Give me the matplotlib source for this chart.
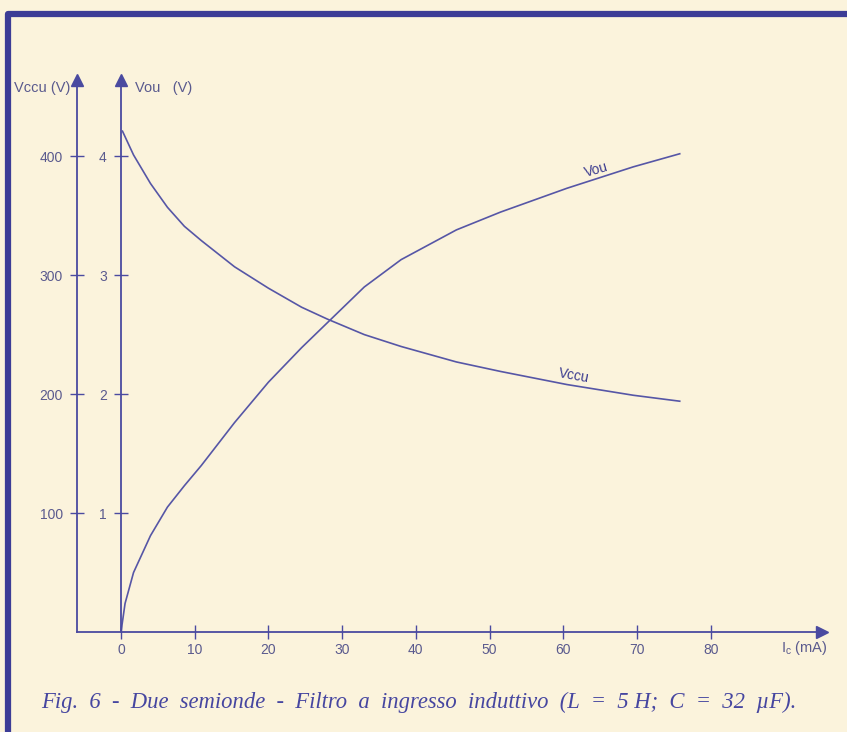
import matplotlib
matplotlib.use("Agg")
import matplotlib.pyplot as plt
from matplotlib.lines import Line2D

# dati (Ic in mA, tensioni in V)
ic_vou = [0, 0.55, 1.7, 4.0, 6.3, 8.6, 10.9, 15.4, 20.0, 24.5, 28.0,
          33.0, 38.0, 45.5, 51.5, 60.5, 69.5, 75.8]
vou = [0, 0.24, 0.50, 0.81, 1.05, 1.23, 1.40, 1.76, 2.10, 2.39, 2.60,
       2.90, 3.13, 3.38, 3.53, 3.73, 3.91, 4.02]

ic_vccu = [0.2, 1.7, 4.0, 6.3, 8.6, 10.9, 15.4, 20.0, 24.5, 28.0, 33.0, 38.0,
           45.5, 51.5, 60.5, 69.5, 75.8]
vccu = [421, 401, 377, 357, 341, 329, 307, 289, 273, 263, 250, 240,
        227, 219, 208, 199, 194]

x_ticks = [0, 10, 20, 30, 40, 50, 60, 70, 80]
vou_ticks = [1, 2, 3, 4]
vccu_ticks = [100, 200, 300, 400]

# didascalia con spazi doppi (spaziatura larga come nell'originale)
didascalia = ('Fig.  6  -  Due  semionde  -  Filtro  a  ingresso  induttivo  '
              '(L  =  5 H;  C  =  32  \u00b5F).')

carta = '#fbf3dc'
blu = '#4a4aa0'
linea = '#5656a6'
testo = '#5a5a8e'
sans = ['Liberation Sans', 'DejaVu Sans']

plt.rcParams['mathtext.default'] = 'regular'

fig = plt.figure(figsize=(8.47, 7.32), dpi=100, facecolor=carta)

# assi: origine a (121, 632) px, asse Vccu a x=77 px
ax = fig.add_axes([77 / 847, 100 / 732, 745 / 847, 552 / 732])
ax.set_facecolor('none')
ax.set_xlim(-5.97, 95.1)
ax.set_ylim(0, 4.64)
ax2 = ax.twinx()
ax2.set_ylim(0, 464)

for s in ['top', 'right']:
    ax.spines[s].set_visible(False)
for s in ['top', 'right', 'bottom']:
    ax2.spines[s].set_visible(False)
ax.spines['left'].set_position(('data', 0))
ax2.spines['left'].set_visible(True)
ax2.spines['left'].set_position(('axes', 0))
for sp in [ax.spines['left'], ax.spines['bottom'], ax2.spines['left']]:
    sp.set_color(blu)
    sp.set_linewidth(1.3)

ax2.yaxis.tick_left()
ax2.yaxis.set_label_position('left')

ax.set_xticks(x_ticks)
ax.set_yticks(vou_ticks)
ax2.set_yticks(vccu_ticks)
for a in [ax, ax2]:
    a.tick_params(direction='inout', length=9.5, width=1.0, color=blu,
                  labelcolor=testo, labelsize=10, pad=5.5)
ax.tick_params(axis='x', pad=3)
for lab in ax.get_xticklabels() + ax.get_yticklabels() + ax2.get_yticklabels():
    lab.set_family(sans)

# frecce degli assi
ax.plot(1, 0, '>', color=blu, ms=9, transform=ax.transAxes, clip_on=False)
ax.plot(0, 1, '^', color=blu, ms=9, transform=ax.get_xaxis_transform(), clip_on=False)
ax.plot(0, 1, '^', color=blu, ms=9, transform=ax.transAxes, clip_on=False)

# curve
ax.plot(ic_vou, vou, color=linea, lw=1.2)
ax2.plot(ic_vccu, vccu, color=linea, lw=1.2)

ax.text(64.5, 3.80, 'Vou', rotation=16, ha='center', va='bottom',
        color='#3c3c90', fontsize=10, family=sans)
ax2.text(61.4, 207, 'Vccu', rotation=-10, ha='center', va='bottom',
         color='#3c3c90', fontsize=10, family=sans)

# etichette degli assi
ax2.set_ylabel('Vccu (V)', rotation=0, ha='left', va='center',
               color=testo, fontsize=10.5, family=sans)
ax2.yaxis.set_label_coords(-0.085, 0.9855)
ax.set_ylabel('Vou   (V)', rotation=0, ha='left', va='center',
              color=testo, fontsize=10.5, family=sans)
ax.yaxis.set_label_coords(0.078, 0.9855)
ax.set_xlabel('I$_c$ (mA)', ha='left', va='center', color=testo,
              fontsize=10.5, family=sans)
ax.xaxis.set_label_coords(0.945, -0.029)

fig.text(41 / 847, 1 - 708 / 732, didascalia, ha='left', va='baseline',
         color='#4646a0', fontsize=16.3, family='Liberation Serif',
         style='italic')

# cornice blu
fig.add_artist(Line2D([8 / 847, 8 / 847, 1], [0, 1 - 14 / 732, 1 - 14 / 732],
                      color='#3c3c96', lw=4.5, transform=fig.transFigure))

fig.savefig('out.png', dpi=100, facecolor=carta)
